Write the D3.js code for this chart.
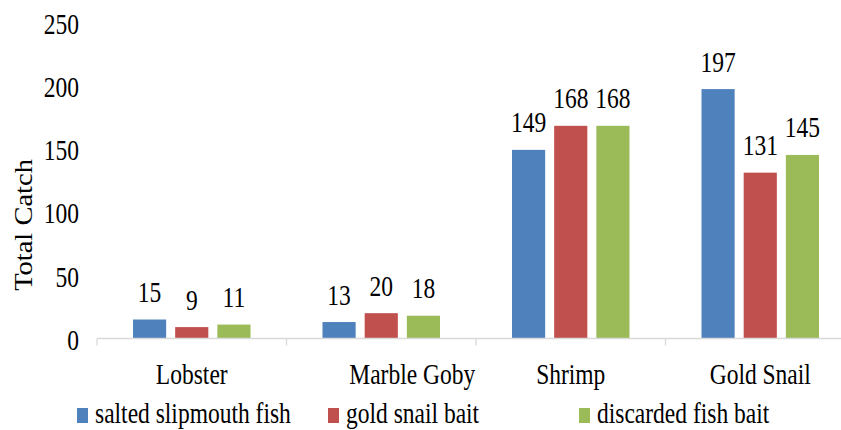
<!DOCTYPE html>
<html>
<head>
<meta charset="utf-8">
<script src="https://cdn.jsdelivr.net/npm/d3@7"></script>
<style>
  html, body { margin: 0; padding: 0; background: #fff; }
</style>
</head>
<body>
<svg id="chart" width="841" height="430"></svg>
<script>
const categories = ["Lobster", "Marble Goby", "Shrimp", "Gold Snail"];
const seriesNames = ["salted slipmouth fish", "gold snail bait", "discarded fish bait"];
const saltedSlipmouth = [15, 13, 149, 197];
const goldSnailBait = [9, 20, 168, 131];
const discardedFishBait = [11, 18, 168, 145];
const yTicks = [0, 50, 100, 150, 200, 250];
const colors = ["#4F81BD", "#C0504D", "#9BBB59"];

const seriesValues = [saltedSlipmouth, goldSnailBait, discardedFishBait];
const svg = d3.select("#chart");
const FS = 23.5, VS = 1.22;

const x0 = d3.scaleBand().domain(categories).range([97, 855]).paddingInner(0).paddingOuter(0);
const x1 = d3.scaleBand().domain(seriesNames).range([36, x0.bandwidth() - 36]).paddingInner(0.214).paddingOuter(0);
const y = d3.scaleLinear().domain([0, 250]).range([338.5, 22]);

// text: measured at width-size, drawn taller and condensed to the measured width
function stretched(sel, widthSize, heightSize) {
  sel.style("font-family", "Liberation Serif").attr("fill", "#000")
    .style("font-size", widthSize + "px")
    .each(function () {
      const w = this.getComputedTextLength();
      d3.select(this).style("font-size", heightSize + "px")
        .attr("textLength", w).attr("lengthAdjust", "spacingAndGlyphs");
    });
  return sel;
}

// y tick labels
svg.append("g").selectAll("text").data(yTicks).join("text")
  .attr("x", 79).attr("y", d => y(d) + 11.5)
  .attr("text-anchor", "end").text(d => d)
  .call(stretched, FS, FS * VS);

// y title
svg.append("text").attr("transform", "translate(32,225) rotate(-90)")
  .attr("text-anchor", "middle").text("Total Catch")
  .call(stretched, 28.5, 24.5);

// bars
const groups = svg.append("g").selectAll("g").data(categories).join("g")
  .attr("transform", d => `translate(${x0(d)},0)`);
const cell = (c, ci) => seriesNames.map((s, si) => ({s, si, v: seriesValues[si][ci]}));
groups.selectAll("rect").data(cell)
  .join("rect")
  .attr("x", d => x1(d.s)).attr("width", x1.bandwidth())
  .attr("y", d => y(d.v)).attr("height", d => y(0) - y(d.v))
  .attr("fill", d => colors[d.si]);

// value labels
groups.selectAll("text").data(cell).join("text")
  .attr("x", d => x1(d.s) + x1.bandwidth() / 2).attr("y", d => y(d.v) - 17.5)
  .attr("text-anchor", "middle").text(d => d.v)
  .call(stretched, FS, FS * VS);

// x axis line and ticks
const axis = svg.append("g");
axis.append("line").attr("x1", x0.range()[0]).attr("x2", 841)
  .attr("y1", y(0)).attr("y2", y(0)).attr("stroke", "#d9d9d9").attr("stroke-width", 1.3);
const bounds = categories.map(c => x0(c)).concat([x0.range()[1]]);
axis.selectAll("line.tick").data(bounds).join("line").attr("class", "tick")
  .attr("x1", d => d).attr("x2", d => d).attr("y1", y(0)).attr("y2", y(0) + 7)
  .attr("stroke", "#d9d9d9").attr("stroke-width", 1.3);

// category labels
const labelShift = {"Marble Goby": 31};
svg.append("g").selectAll("text").data(categories).join("text")
  .attr("x", d => x0(d) + x0.bandwidth() / 2 + (labelShift[d] || 0)).attr("y", 384)
  .attr("text-anchor", "middle").text(d => d)
  .call(stretched, FS, FS * VS);

// legend
const leg = svg.append("g").selectAll("g").data(seriesNames).join("g")
  .attr("transform", (d, i) => `translate(${77 + i * 251},0)`);
leg.append("rect").attr("x", 0).attr("y", 408).attr("width", 11).attr("height", 15)
  .attr("fill", (d, i) => colors[i]);
leg.append("text").attr("x", 18).attr("y", 423).text(d => d)
  .call(stretched, FS, FS * VS);
</script>
</body>
</html>
